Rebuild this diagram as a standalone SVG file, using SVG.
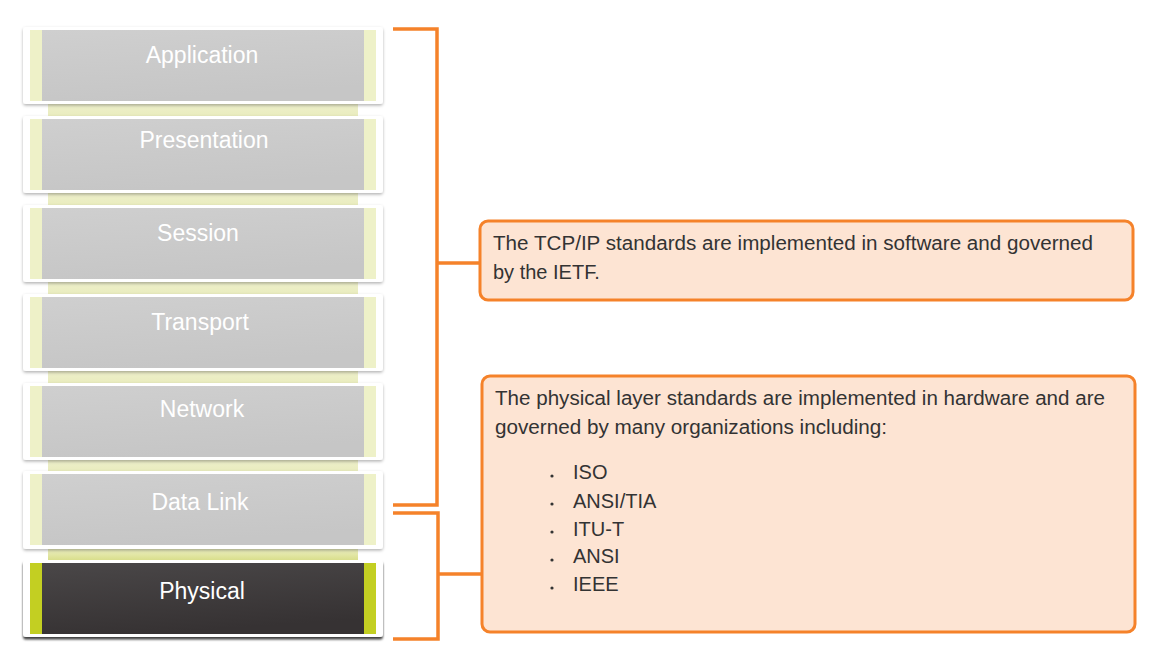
<svg xmlns="http://www.w3.org/2000/svg" width="1162" height="661" viewBox="0 0 1162 661">
<defs>
<linearGradient id="gray" x1="0" y1="0" x2="0.3" y2="1"><stop offset="0" stop-color="#cfcfcf"/><stop offset="1" stop-color="#c6c6c6"/></linearGradient>
<linearGradient id="dark" x1="0" y1="0" x2="0.3" y2="1"><stop offset="0" stop-color="#4a4748"/><stop offset="1" stop-color="#363233"/></linearGradient>
<linearGradient id="link" x1="0" y1="0" x2="0" y2="1"><stop offset="0" stop-color="#eef0cc"/><stop offset="1" stop-color="#e9ecbd"/></linearGradient>
<linearGradient id="linkP" x1="0" y1="0" x2="0" y2="1"><stop offset="0" stop-color="#eef0c6"/><stop offset="1" stop-color="#d9de8c"/></linearGradient>
<filter id="sh" x="-5%" y="-10%" width="110%" height="130%"><feDropShadow dx="0" dy="1.5" stdDeviation="1.5" flood-color="#000" flood-opacity="0.3"/></filter>
<filter id="shd" x="-5%" y="-10%" width="110%" height="130%"><feDropShadow dx="0" dy="2.5" stdDeviation="1.2" flood-color="#000" flood-opacity="0.75"/></filter>
</defs>
<style>
.card{fill:#fff}
.stripe{fill:#eef1c8}
.stripeP{fill:#c3cf22}
.lbl{font-family:"Liberation Sans",Arial,sans-serif;font-size:23px;fill:#fff;text-anchor:middle}
.br{fill:none;stroke:#f5822a;stroke-width:3.5;stroke-linejoin:miter}
.box{fill:#fde4d3;stroke:#f5822a;stroke-width:3}
.t{font-family:"Liberation Sans",Arial,sans-serif;font-size:20px;fill:#333}
</style>
<g id="links">
<rect x="48" y="103" width="310" height="14" fill="url(#link)"/>
<rect x="48" y="192" width="310" height="14" fill="url(#link)"/>
<rect x="48" y="281" width="310" height="14" fill="url(#link)"/>
<rect x="48" y="370" width="310" height="14" fill="url(#link)"/>
<rect x="48" y="459" width="310" height="13" fill="url(#link)"/>
<rect x="48" y="548" width="310" height="12" fill="url(#linkP)"/>
</g>
<g id="application">
<rect class="card" x="23" y="27" width="360" height="77" rx="3" filter="url(#sh)"/>
<rect class="stripe" x="30" y="30" width="346" height="71"/>
<rect x="42" y="30" width="322" height="71" fill="url(#gray)"/>
<text class="lbl" x="202" y="63">Application</text>
</g>
<g id="presentation">
<rect class="card" x="23" y="116" width="360" height="77" rx="3" filter="url(#sh)"/>
<rect class="stripe" x="30" y="119" width="346" height="71"/>
<rect x="42" y="119" width="322" height="71" fill="url(#gray)"/>
<text class="lbl" x="204" y="148">Presentation</text>
</g>
<g id="session">
<rect class="card" x="23" y="205" width="360" height="77" rx="3" filter="url(#sh)"/>
<rect class="stripe" x="30" y="208" width="346" height="71"/>
<rect x="42" y="208" width="322" height="71" fill="url(#gray)"/>
<text class="lbl" x="198" y="241">Session</text>
</g>
<g id="transport">
<rect class="card" x="23" y="294" width="360" height="77" rx="3" filter="url(#sh)"/>
<rect class="stripe" x="30" y="297" width="346" height="71"/>
<rect x="42" y="297" width="322" height="71" fill="url(#gray)"/>
<text class="lbl" x="200" y="330">Transport</text>
</g>
<g id="network">
<rect class="card" x="23" y="383" width="360" height="77" rx="3" filter="url(#sh)"/>
<rect class="stripe" x="30" y="386" width="346" height="71"/>
<rect x="42" y="386" width="322" height="71" fill="url(#gray)"/>
<text class="lbl" x="202" y="417">Network</text>
</g>
<g id="datalink">
<rect class="card" x="23" y="471" width="360" height="78" rx="3" filter="url(#sh)"/>
<rect class="stripe" x="30" y="474" width="346" height="71"/>
<rect x="42" y="474" width="322" height="71" fill="url(#gray)"/>
<text class="lbl" x="200" y="510">Data Link</text>
</g>
<g id="physical">
<rect class="card" x="23" y="560" width="360" height="77" rx="3" filter="url(#shd)"/>
<rect class="stripeP" x="30" y="563" width="346" height="71"/>
<rect x="42" y="563" width="322" height="71" fill="url(#dark)"/>
<text class="lbl" x="202" y="599">Physical</text>
</g>
<g id="connectors">
<path class="br" d="M393 29 H437 V505 H393"/>
<path class="br" d="M437 263 H481"/>
<path class="br" d="M393 513 H438 V639 H393"/>
<path class="br" d="M438 574 H483"/>
</g>
<g id="tcpip-note">
<rect class="box" x="480" y="221" width="653" height="79" rx="8"/>
<text class="t" x="493" y="250" textLength="600" lengthAdjust="spacingAndGlyphs">The TCP/IP standards are implemented in software and governed</text>
<text class="t" x="493" y="279">by the IETF.</text>
</g>
<g id="physical-note">
<rect class="box" x="482" y="376" width="653" height="256" rx="8"/>
<text class="t" x="495" y="405" textLength="610" lengthAdjust="spacingAndGlyphs">The physical layer standards are implemented in hardware and are</text>
<text class="t" x="495" y="434" textLength="392" lengthAdjust="spacingAndGlyphs">governed by many organizations including:</text>
<g class="t">
<circle cx="552" cy="476" r="1.6" fill="#333"/><text class="t" x="573" y="479">ISO</text>
<circle cx="552" cy="504" r="1.6" fill="#333"/><text class="t" x="573" y="508">ANSI/TIA</text>
<circle cx="552" cy="532" r="1.6" fill="#333"/><text class="t" x="573" y="536">ITU-T</text>
<circle cx="552" cy="560" r="1.6" fill="#333"/><text class="t" x="573" y="563">ANSI</text>
<circle cx="552" cy="588" r="1.6" fill="#333"/><text class="t" x="573" y="591">IEEE</text>
</g>
</g>
</svg>
